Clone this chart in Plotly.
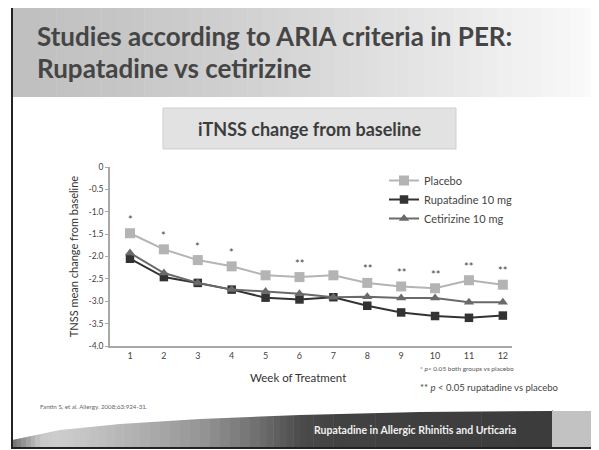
import plotly.graph_objects as go

# ---------------- data ----------------
weeks = [1, 2, 3, 4, 5, 6, 7, 8, 9, 10, 11, 12]
placebo = [-1.48, -1.84, -2.08, -2.22, -2.42, -2.46, -2.42, -2.59, -2.67, -2.71, -2.53, -2.63]
rupatadine = [-2.05, -2.46, -2.59, -2.74, -2.92, -2.96, -2.91, -3.10, -3.25, -3.33, -3.37, -3.32]
cetirizine = [-1.92, -2.37, -2.59, -2.74, -2.78, -2.83, -2.91, -2.90, -2.93, -2.93, -3.02, -3.02]
stars = ["*", "*", "*", "*", "", "**", "", "**", "**", "**", "**", "**"]
ytick_vals = [0, -0.5, -1.0, -1.5, -2.0, -2.5, -3.0, -3.5, -4.0]
ytick_text = ["0", "-0.5", "-1.0", "-1.5", "-2.0", "-2.5", "-3.0", "-3.5", "-4.0"]

# page body has an 8px margin: work in screen pixels, figure is offset by 8
OFF = 8
W, H = 599 - OFF, 450 - OFF
SL, SR, ST, SB = 110, 512, 167, 346        # plot area in screen pixels
L, T = SL - OFF, ST - OFF
R, B = W - (SR - OFF), H - (SB - OFF)
PW, PH = SR - SL, SB - ST


def px(x):
    return (x - SL) / PW


def py(y):
    return (SB - y) / PH


FONT = "Lato"

fig = go.Figure()
fig.add_trace(go.Scatter(x=weeks, y=placebo, name="Placebo", mode="lines+markers",
                         line=dict(color="#b4b4b4", width=2),
                         marker=dict(symbol="square", size=10, color="#b4b4b4")))
fig.add_trace(go.Scatter(x=weeks, y=rupatadine, name="Rupatadine 10 mg", mode="lines+markers",
                         line=dict(color="#333333", width=2),
                         marker=dict(symbol="square", size=8.5, color="#333333")))
fig.add_trace(go.Scatter(x=weeks, y=cetirizine, name="Cetirizine 10 mg", mode="lines+markers",
                         line=dict(color="#6a6a6a", width=2),
                         marker=dict(symbol="triangle-up", size=9, color="#6a6a6a")))

shapes = []


def hexc(v):
    v = max(0, min(255, int(round(v))))
    return "#%02x%02x%02x" % (v, v, v)


# title band gradient (strips)
n = 40
x0, x1 = 12, 600
for i in range(n):
    a = x0 + (x1 - x0) * i / n
    b = x0 + (x1 - x0) * (i + 1) / n + 0.5
    t = i / (n - 1)
    c = 192 + (250 - 192) * (t ** 1.3)
    shapes.append(dict(type="rect", xref="paper", yref="paper", x0=px(a), x1=px(b),
                       y0=py(97), y1=py(7), fillcolor=hexc(c), line=dict(width=0), layer="below"))

# bottom band gradient strips
segs = [(12, 110), (40, 200), (60, 205), (90, 195), (140, 175), (200, 150), (260, 110),
        (300, 75), (340, 65), (552, 60)]
for k in range(len(segs) - 1):
    xa, ca = segs[k]
    xb, cb = segs[k + 1]
    m = 6
    for j in range(m):
        a = xa + (xb - xa) * j / m
        b = xa + (xb - xa) * (j + 1) / m + 0.5
        c = ca + (cb - ca) * (j + 0.5) / m
        shapes.append(dict(type="rect", xref="paper", yref="paper", x0=px(a), x1=px(b),
                           y0=py(449), y1=py(410), fillcolor=hexc(c), line=dict(width=0)))
# white cover giving curved top edge of bottom band
pts = [(12, 440), (60, 430), (120, 424), (200, 419), (300, 415), (420, 412), (552, 411)]
path = "M %f,%f " % (px(12), py(405))
for (xx, yy) in pts:
    path += "L %f,%f " % (px(xx), py(yy))
path += "L %f,%f Z" % (px(552), py(405))
shapes.append(dict(type="path", xref="paper", yref="paper", path=path,
                   fillcolor="white", line=dict(width=0)))
# grey square bottom right
shapes.append(dict(type="rect", xref="paper", yref="paper", x0=px(552), x1=px(600),
                   y0=py(449), y1=py(411), fillcolor="#c2c2c2", line=dict(width=0)))
# subtitle box
shapes.append(dict(type="rect", xref="paper", yref="paper", x0=px(163), x1=px(456),
                   y0=py(149), y1=py(108), fillcolor="#e2e2e2",
                   line=dict(color="#cfcfcf", width=1)))
# frame
shapes.append(dict(type="path", xref="paper", yref="paper",
                   path="M %f,%f L %f,%f L %f,%f L %f,%f" % (px(600), py(7), px(12), py(7),
                                                               px(12), py(448), px(600), py(448)),
                   line=dict(color="#222222", width=2)))

annotations = []
# asterisks
for w, v, s in zip(weeks, placebo, stars):
    if s:
        annotations.append(dict(x=w, y=v, xref="x", yref="y", text=s, showarrow=False,
                                yshift=14, font=dict(family=FONT, size=11, color="#444444")))

annotations += [
    dict(x=px(35), y=py(36), xref="paper", yref="paper", xanchor="left", yanchor="middle",
         text="<b>Studies according to ARIA criteria in PER:</b>", showarrow=False,
         font=dict(family=FONT, size=26, color="#454545")),
    dict(x=px(35), y=py(68), xref="paper", yref="paper", xanchor="left", yanchor="middle",
         text="<b>Rupatadine vs cetirizine</b>", showarrow=False,
         font=dict(family=FONT, size=26, color="#454545")),
    dict(x=px(309), y=py(129), xref="paper", yref="paper", xanchor="center", yanchor="middle",
         text="<b>iTNSS change from baseline</b>", showarrow=False,
         font=dict(family=FONT, size=18, color="#3c3c3c")),
    dict(x=px(298), y=py(377), xref="paper", yref="paper", xanchor="center", yanchor="middle",
         text="Week of Treatment", showarrow=False,
         font=dict(family=FONT, size=11.5, color="#333333")),
    dict(x=px(418), y=py(368), xref="paper", yref="paper", xanchor="left", yanchor="middle",
         text="* <i>p</i>< 0.05 both groups vs placebo", showarrow=False,
         font=dict(family=FONT, size=6.5, color="#555555")),
    dict(x=px(418), y=py(387), xref="paper", yref="paper", xanchor="left", yanchor="middle",
         text="** <i>p</i> < 0.05 rupatadine vs placebo", showarrow=False,
         font=dict(family=FONT, size=9.5, color="#444444")),
    dict(x=px(38), y=py(406), xref="paper", yref="paper", xanchor="left", yanchor="middle",
         text="Fantin S, et al. Allergy. 2008;63:924-31.", showarrow=False,
         font=dict(family=FONT, size=6.2, color="#666666")),
    dict(x=px(415), y=py(430), xref="paper", yref="paper", xanchor="center", yanchor="middle",
         text="<b>Rupatadine in Allergic Rhinitis and Urticaria</b>", showarrow=False,
         font=dict(family=FONT, size=10.5, color="#f0f0f0")),
]

fig.update_layout(
    width=W, height=H,
    margin=dict(l=L, r=R, t=T, b=B, pad=0),
    paper_bgcolor="white", plot_bgcolor="white",
    font=dict(family=FONT, color="#555555"),
    shapes=shapes, annotations=annotations,
    showlegend=True,
    legend=dict(x=px(384), y=py(166), xanchor="left", yanchor="top",
                bgcolor="rgba(0,0,0,0)", font=dict(family=FONT, size=11, color="#444444"),
                itemwidth=30, tracegroupgap=0),
    xaxis=dict(range=[0.41, 12.27], tickvals=weeks, ticktext=[str(w) for w in weeks],
               showgrid=False, zeroline=False, showline=True, linecolor="#a8a8a8", linewidth=1.5,
               ticks="", tickfont=dict(family=FONT, size=9, color="#444444")),
    yaxis=dict(range=[-4.0, 0.0], tickvals=ytick_vals, ticktext=ytick_text,
               showgrid=False, zeroline=False, showline=True, linecolor="#a8a8a8", linewidth=1.5,
               ticks="outside", ticklen=3, tickcolor="#a8a8a8",
               tickfont=dict(family=FONT, size=8.5, color="#444444"),
               title=dict(text="TNSS mean change from baseline",
                          font=dict(family=FONT, size=11, color="#333333"), standoff=8)),
)

fig.write_html("out.html")
